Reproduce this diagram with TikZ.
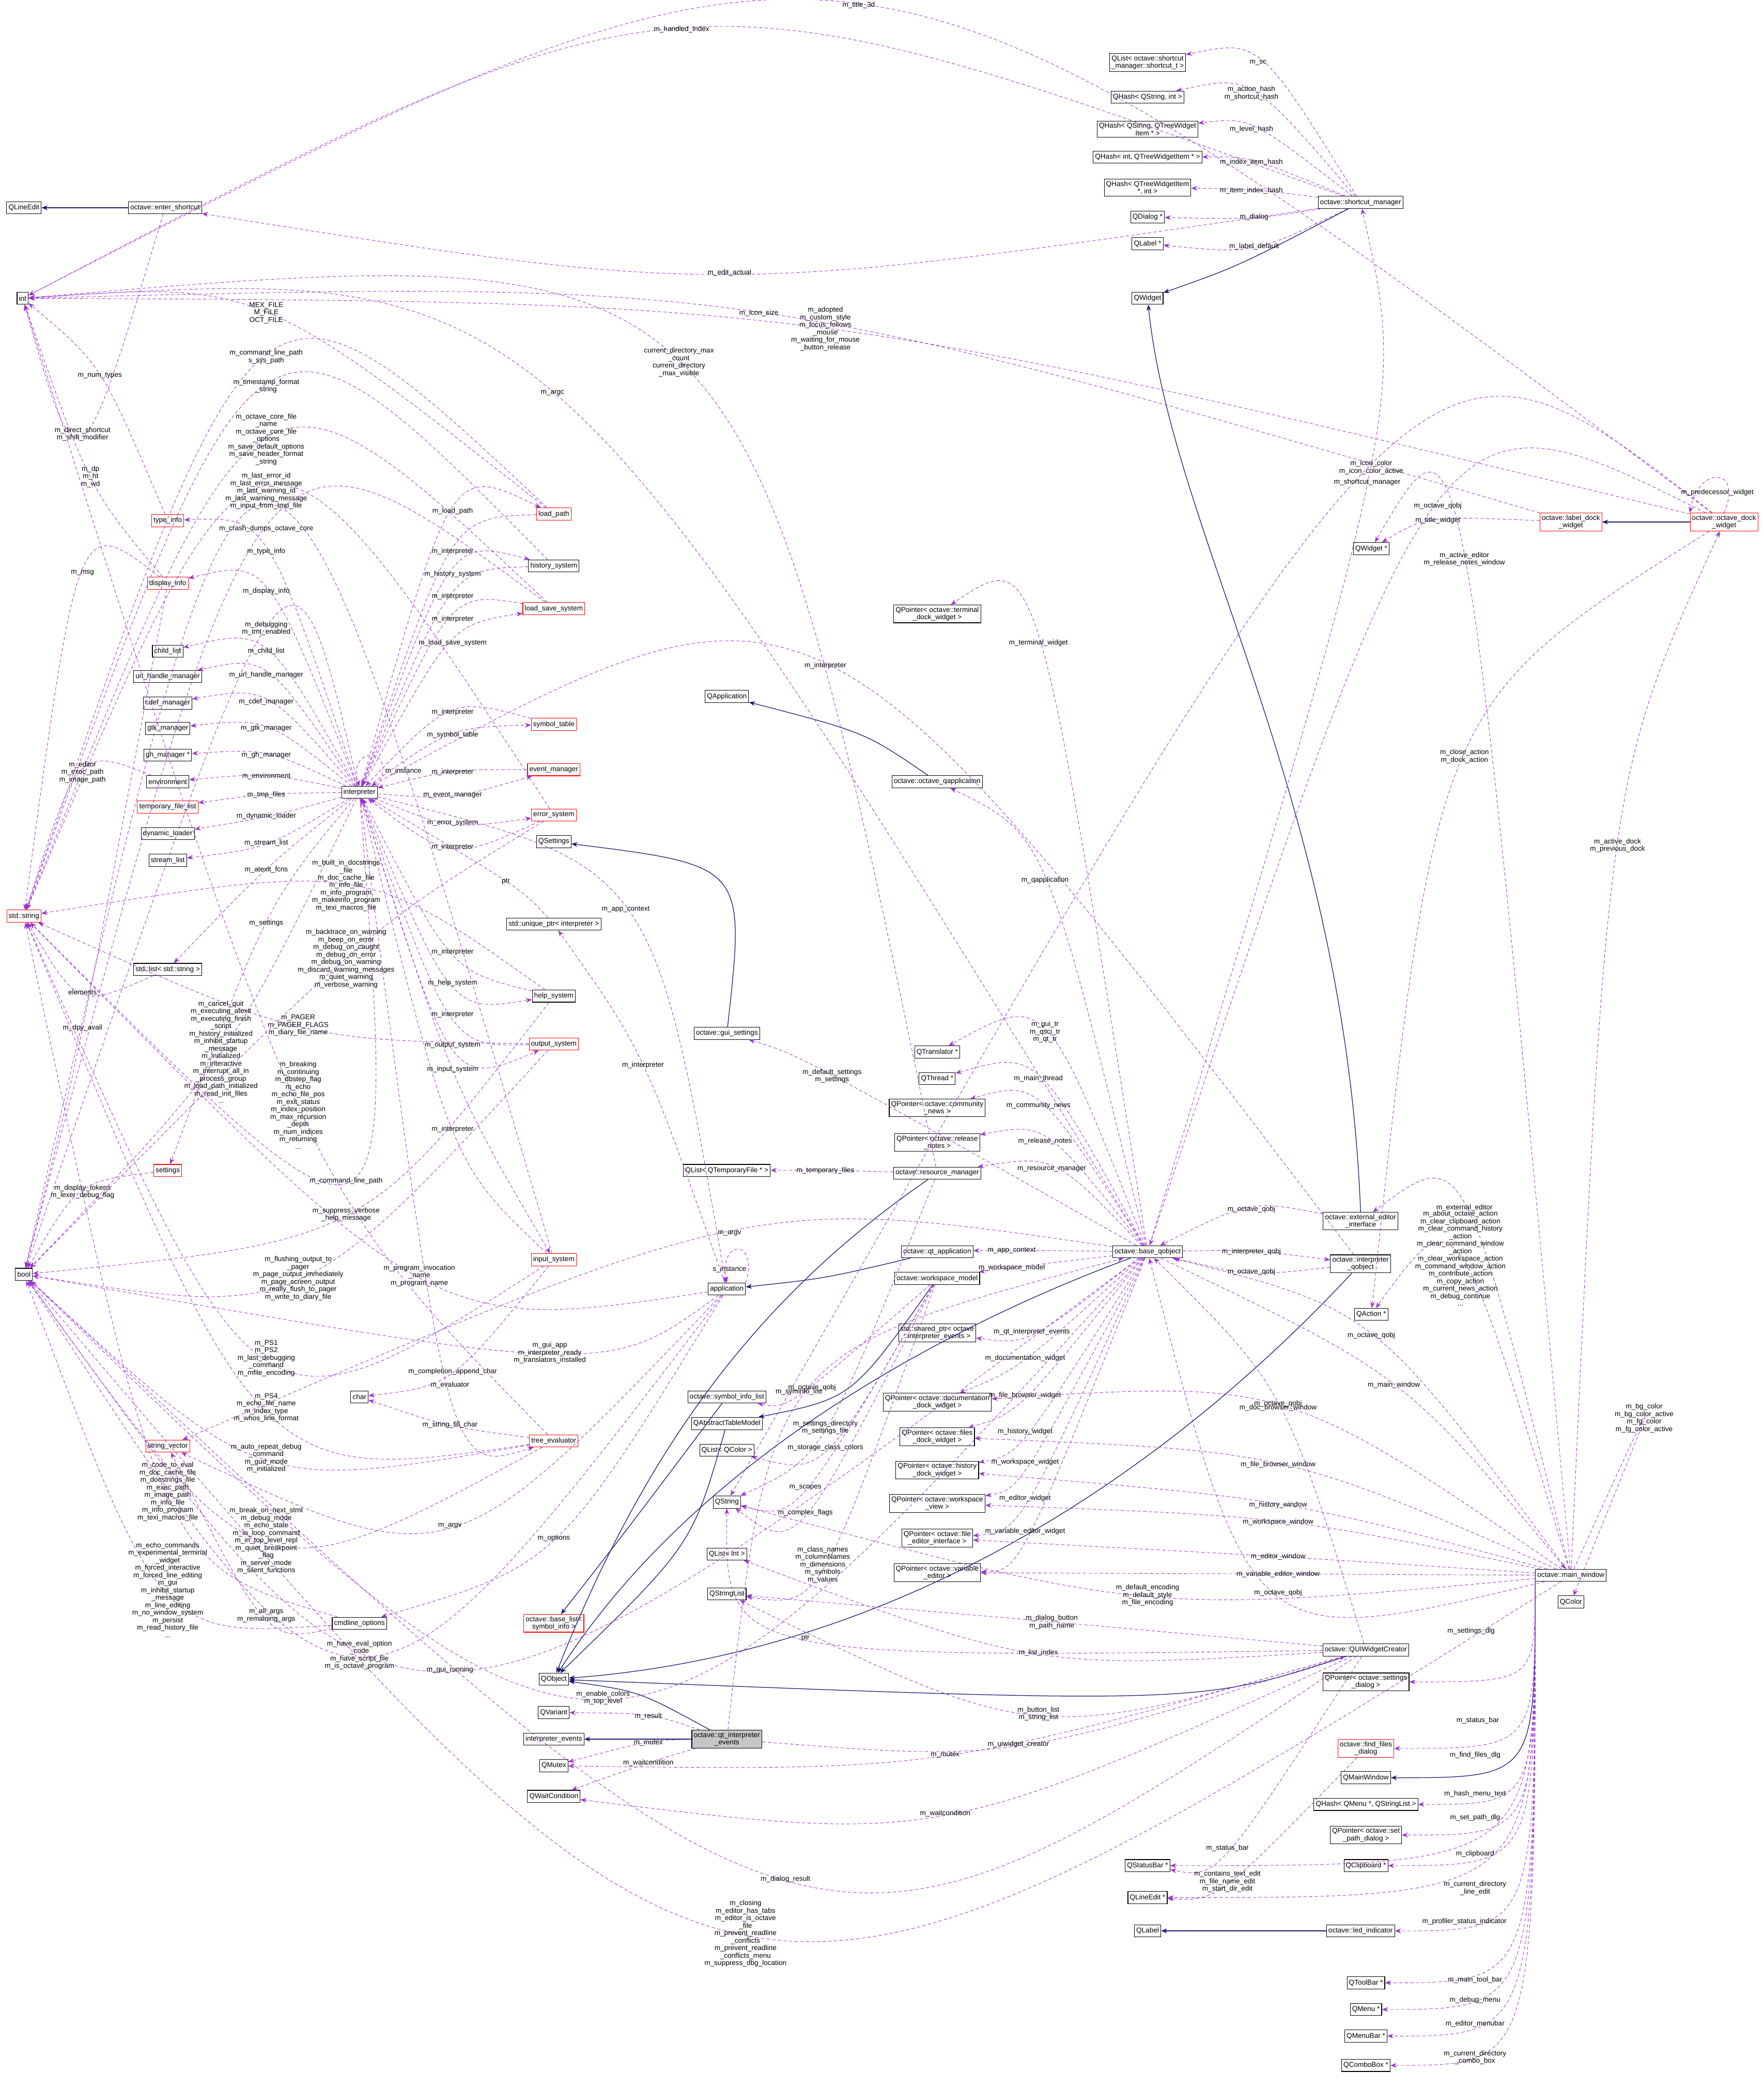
\documentclass[tikz,border=0pt]{standalone}
\usepackage{fontspec}
\setmainfont{Liberation Sans}
\usetikzlibrary{calc,arrows.meta}
\definecolor{dpurple}{HTML}{9A32CD}
\definecolor{dblue}{HTML}{191970}
\tikzset{
 bx/.style={draw=black,line width=1.2pt,inner sep=4pt,minimum height=26pt,align=center,font=\fontsize{15}{16}\selectfont,fill=white},
 rbx/.style={bx,draw=red},
 gbx/.style={bx,fill=gray!45},
 dep/.style={draw=dpurple,dashed,dash pattern=on 7pt off 5pt,line width=1pt,-{Stealth[length=13pt,width=10pt]}},
 inh/.style={draw=dblue,line width=1.4pt,-{Stealth[length=13pt,width=10pt]}},
 lbl/.style={font=\fontsize{15}{16}\selectfont,align=center,inner sep=1pt,text=black}
}
\newcommand\ed[4]{\draw[dep] (#1) .. controls ($1.3333*(#3)-0.16667*(#1)-0.16667*(#2)$) and ($1.3333*(#3)-0.16667*(#1)-0.16667*(#2)$) .. (#2);\node[lbl] at (#3) {#4};}
\newcommand\edb[3]{\draw[dep] (mw.south west) .. controls (mw.south west |- #1) .. (#1.east);\node[lbl] at (#2) {#3};}
\newcommand\ih[2]{\draw[inh] (#1) -- (#2);}
\begin{document}
\begin{tikzpicture}[x=0.1cm,y=-0.1cm]
\useasboundingbox (0,0) rectangle (1325,1568);
% left column
\node[bx] (QLineEdit) at (18,156) {QLineEdit};
\node[bx] (int) at (17,224) {int};
\node[rbx] (typeinfo) at (126,391) {type\_info};
\node[rbx] (dispinfo) at (126,438) {display\_info};
\node[rbx] (str) at (18,688) {std::string};
\node[bx] (bool) at (18,957) {bool};
\node[bx] (childlist) at (126,489) {child\_list};
\node[bx] (uri) at (126,508) {url\_handle\_manager};
\node[bx] (cdef) at (126,528) {cdef\_manager};
\node[bx] (gtk) at (126,547) {gtk\_manager};
\node[bx] (gh) at (126,567) {gh\_manager *};
\node[bx] (env) at (126,587) {environment};
\node[rbx] (tmpf) at (126,606) {temporary\_file\_list};
\node[bx] (dynl) at (126,626) {dynamic\_loader};
\node[bx] (streaml) at (126,646) {stream\_list};
\node[bx] (slist) at (126,728) {std::list\textless{} std::string \textgreater};
\node[rbx] (settings) at (126,879) {settings};
\node[rbx] (strvec) at (126,1086) {string\_vector};
\node[bx] (char) at (270,1049) {char};
\node[bx] (entersc) at (124,156) {octave::enter\_shortcut};
\node[bx] (interp) at (270,595) {interpreter};
\node[rbx] (loadpath) at (416,386) {load\_path};
\node[bx] (histsys) at (416,425) {history\_system};
\node[rbx] (lss) at (416,457) {load\_save\_system};
\node[rbx] (symtab) at (416,544) {symbol\_table};
\node[rbx] (evm) at (416,578) {event\_manager};
\node[rbx] (errsys) at (416,612) {error\_system};
\node[bx] (QSettings) at (416,632) {QSettings};
\node[bx] (uptr) at (416,694) {std::unique\_ptr\textless{} interpreter \textgreater};
\node[bx] (helpsys) at (416,748) {help\_system};
\node[rbx] (outsys) at (416,784) {output\_system};
\node[rbx] (insys) at (416,946) {input\_system};
\node[rbx] (treeev) at (416,1082) {tree\_evaluator};
\node[bx] (cmdopt) at (270,1219) {cmdline\_options};
\node[bx] (app) at (546,968) {application};
\node[bx] (QApplication) at (546,523) {QApplication};
\node[bx] (qapp) at (704,587) {octave::octave\_qapplication};
\node[bx] (guiset) at (546,776) {octave::gui\_settings};
\node[bx] (qltmp) at (546,879) {QList\textless{} QTemporaryFile * \textgreater};
\node[bx] (resmgr) at (704,881) {octave::resource\_manager};
\node[bx] (qtapp) at (704,940) {octave::qt\_application};
\node[bx] (wsmodel) at (704,960) {octave::workspace\_model};
\node[bx] (syminfo) at (546,1049) {octave::symbol\_info\_list};
\node[bx] (QATM) at (546,1069) {QAbstractTableModel};
\node[bx] (qlcolor) at (546,1089) {QList\textless{} QColor \textgreater};
\node[bx] (QString) at (546,1128) {QString};
\node[bx] (qlint) at (546,1167) {QList\textless{} int \textgreater};
\node[bx] (QStringList) at (546,1197) {QStringList};
\node[rbx] (baselist) at (416,1219) {octave::base\_list\textless{}\\symbol\_info \textgreater};
\node[bx] (QObject) at (416,1261) {QObject};
\node[bx] (QVariant) at (416,1286) {QVariant};
\node[bx] (ievents) at (416,1306) {interpreter\_events};
\node[bx] (QMutex) at (416,1326) {QMutex};
\node[bx] (QWait) at (416,1349) {QWaitCondition};
\node[gbx] (qtie) at (546,1306) {octave::qt\_interpreter\\\_events};
\node[bx] (QTrans) at (704,790) {QTranslator *};
\node[bx] (QThread) at (704,810) {QThread *};
\node[bx] (pnews) at (704,832) {QPointer\textless{} octave::community\\\_news \textgreater};
\node[bx] (prel) at (704,858) {QPointer\textless{} octave::release\\\_notes \textgreater};
\node[bx] (sptr) at (704,1001) {std::shared\_ptr\textless{} octave\\::interpreter\_events \textgreater};
\node[bx] (pdoc) at (704,1053) {QPointer\textless{} octave::documentation\\\_dock\_widget \textgreater};
\node[bx] (pfiles) at (704,1079) {QPointer\textless{} octave::files\\\_dock\_widget \textgreater};
\node[bx] (phist) at (704,1104) {QPointer\textless{} octave::history\\\_dock\_widget \textgreater};
\node[bx] (pws) at (704,1129) {QPointer\textless{} octave::workspace\\\_view \textgreater};
\node[bx] (ped) at (704,1155) {QPointer\textless{} octave::file\\\_editor\_interface \textgreater};
\node[bx] (pvar) at (704,1181) {QPointer\textless{} octave::variable\\\_editor \textgreater};
\node[bx] (pterm) at (704,461) {QPointer\textless{} octave::terminal\\\_dock\_widget \textgreater};
\node[bx] (bqo) at (862,940) {octave::base\_qobject};
\node[bx] (extedit) at (1022,917) {octave::external\_editor\\\_interface};
\node[bx] (iqo) at (1022,949) {octave::interpreter\\\_qobject};
\node[bx] (QAction) at (1030,987) {QAction *};
\node[bx] (QWidget) at (862,224) {QWidget};
\node[bx] (QWidgetp) at (1030,412) {QWidget *};
\node[rbx] (ldw) at (1180,392) {octave::label\_dock\\\_widget};
\node[rbx] (odw) at (1295,392) {octave::octave\_dock\\\_widget};
\node[bx] (scm) at (1022,152) {octave::shortcut\_manager};
\node[bx] (qlsc) at (862,47) {QList\textless{} octave::shortcut\\\_manager::shortcut\_t \textgreater};
\node[bx] (qh1) at (862,73) {QHash\textless{} QString, int \textgreater};
\node[bx] (qh2) at (862,97) {QHash\textless{} QString, QTreeWidget\\Item * \textgreater};
\node[bx] (qh3) at (862,118) {QHash\textless{} int, QTreeWidgetItem * \textgreater};
\node[bx] (qh4) at (862,141) {QHash\textless{} QTreeWidgetItem\\*, int \textgreater};
\node[bx] (QDialog) at (862,163) {QDialog *};
\node[bx] (QLabelp) at (862,183) {QLabel *};
\node[bx] (mw) at (1180,1183) {octave::main\_window};
\node[bx] (QColor) at (1180,1203) {QColor};
\node[bx] (quiw) at (1026,1239) {octave::QUIWidgetCreator};
\node[bx] (psd) at (1026,1263) {QPointer\textless{} octave::settings\\\_dialog \textgreater};
\node[rbx] (ffd) at (1026,1313) {octave::find\_files\\\_dialog};
\node[bx] (QMainWindow) at (1026,1335) {QMainWindow};
\node[bx] (qhmenu) at (1026,1355) {QHash\textless{} QMenu *, QStringList \textgreater};
\node[bx] (pspd) at (1026,1378) {QPointer\textless{} octave::set\\\_path\_dialog \textgreater};
\node[bx] (QClip) at (1026,1401) {QClipboard *};
\node[bx] (QStatus) at (862,1401) {QStatusBar *};
\node[bx] (QLineEditp) at (862,1425) {QLineEdit *};
\node[bx] (QLabel) at (862,1450) {QLabel};
\node[bx] (led) at (1022,1450) {octave::led\_indicator};
\node[bx] (QToolBar) at (1026,1489) {QToolBar *};
\node[bx] (QMenu) at (1026,1509) {QMenu *};
\node[bx] (QMenuBar) at (1026,1529) {QMenuBar *};
\node[bx] (QCombo) at (1026,1551) {QComboBox *};

% inheritance
\ih{entersc}{QLineEdit}
\draw[inh] (scm) .. controls (930,200) .. (QWidget);
\draw[inh] (extedit.north) .. controls (1010,600) and (880,400) .. (QWidget);
\ih{odw}{ldw}
\draw[inh] (qapp) .. controls (650,550) .. (QApplication);
\draw[inh] (guiset) .. controls (560,650) .. (QSettings);
\draw[inh] (qtapp) .. controls (620,960) .. (app);
\draw[inh] (resmgr) .. controls (560,980) and (480,1100) .. (QObject);
\draw[inh] (bqo) .. controls (700,1000) and (520,1100) .. (QObject);
\draw[inh] (iqo) .. controls (900,1080) and (700,1240) .. (QObject);
\draw[inh] (quiw) .. controls (900,1280) .. (QObject);
\draw[inh] (qtie) .. controls (480,1270) .. (QObject);
\ih{qtie}{ievents}
\draw[inh] (wsmodel) .. controls (640,1050) .. (QATM);
\draw[inh] (QATM) .. controls (520,1160) .. (QObject);
\draw[inh] (syminfo) .. controls (470,1150) .. (baselist);
\draw[inh] (mw.south west) .. controls (mw.south west |- QMainWindow) .. (QMainWindow.east);
\ih{led}{QLabel}

% top area
\ed{odw}{int}{645,4}{m\_title\_3d}
\ed{scm}{int}{512,22}{m\_handled\_index}
\ed{scm}{qlsc}{945,47}{m\_sc}
\ed{scm}{qh1}{940,70}{m\_action\_hash\\m\_shortcut\_hash}
\ed{scm}{qh2}{940,97}{m\_level\_hash}
\ed{scm}{qh3}{940,122}{m\_index\_item\_hash}
\ed{scm}{qh4}{940,143}{m\_item\_index\_hash}
\ed{scm}{QDialog}{942,163}{m\_dialog}
\ed{scm}{QLabelp}{942,185}{m\_label\_default}
\ed{scm}{entersc}{548,205}{m\_edit\_actual}
\ed{entersc}{int}{62,326}{m\_direct\_shortcut\\m\_shift\_modifier}
\ed{odw}{int}{620,247}{m\_adopted\\m\_custom\_style\\m\_focus\_follows\\\_mouse\\m\_waiting\_for\_mouse\\\_button\_release}
\ed{ldw}{int}{570,235}{m\_icon\_size}
\ed{resmgr}{int}{510,272}{current\_directory\_max\\\_count\\current\_directory\\\_max\_visible}
\ed{loadpath}{int}{200,235}{MEX\_FILE\\M\_FILE\\OCT\_FILE}
\ed{typeinfo}{int}{75,282}{m\_num\_types}
\ed{dispinfo}{int}{68,358}{m\_dp\\m\_ht\\m\_wd}
\ed{bqo}{int}{415,295}{m\_argc}
\ed{odw}{QString}{1030,351}{m\_icon\_color\\m\_icon\_color\_active}
\ed{bqo}{scm}{1027,362}{m\_shortcut\_manager}
\ed{odw}{bqo}{1080,380}{m\_octave\_qobj}
\ed{ldw}{QWidgetp}{1080,391}{m\_title\_widget}
\draw[dep] (odw.north) .. controls (1310,350) and (1275,350) .. (odw.north west);
\node[lbl] at (1290,370) {m\_predecessor\_widget};
\ed{mw}{odw}{1215,635}{m\_active\_dock\\m\_previous\_dock}
\ed{mw}{QWidgetp}{1100,420}{m\_active\_editor\\m\_release\_notes\_window}
\ed{odw}{QAction}{1100,568}{m\_close\_action\\m\_dock\_action}
\ed{mw}{QColor}{1235,1065}{m\_bg\_color\\m\_bg\_color\_active\\m\_fg\_color\\m\_fg\_color\_active}
\ed{bqo}{pterm}{780,483}{m\_terminal\_widget}
\ed{iqo}{interp}{620,500}{m\_interpreter}
\ed{bqo}{qapp}{785,661}{m\_qapplication}
\ed{bqo}{guiset}{625,808}{m\_default\_settings\\m\_settings}
\ed{bqo}{QTrans}{785,775}{m\_gui\_tr\\m\_qsci\_tr\\m\_qt\_tr}
\ed{bqo}{QThread}{780,810}{m\_main\_thread}
\ed{bqo}{pnews}{780,830}{m\_community\_news}
\ed{bqo}{prel}{785,857}{m\_release\_notes}
\ed{bqo}{resmgr}{790,878}{m\_resource\_manager}
\ed{resmgr}{qltmp}{620,879}{m\_temporary\_files}
\ed{bqo}{qtapp}{760,939}{m\_app\_context}
\ed{bqo}{wsmodel}{760,952}{m\_workspace\_model}
\ed{bqo}{iqo}{940,940}{m\_interpreter\_qobj}
\ed{iqo}{bqo}{940,955}{m\_octave\_qobj}
\ed{extedit}{bqo}{940,908}{m\_octave\_qobj}
\ed{mw}{extedit}{1100,907}{m\_external\_editor}
\ed{mw}{QAction}{1097,945}{m\_about\_octave\_action\\m\_clear\_clipboard\_action\\m\_clear\_command\_history\\\_action\\m\_clear\_command\_window\\\_action\\m\_clear\_workspace\_action\\m\_command\_window\_action\\m\_contribute\_action\\m\_copy\_action\\m\_current\_news\_action\\m\_debug\_continue\\...}
\ed{mw}{bqo}{1030,1003}{m\_octave\_qobj}
\ed{bqo}{mw}{1047,1040}{m\_main\_window}
\ed{bqo}{sptr}{775,1000}{m\_qt\_interpreter\_events}
\ed{bqo}{pdoc}{770,1020}{m\_documentation\_widget}
\ed{bqo}{pfiles}{770,1048}{m\_file\_browser\_widget}
\ed{bqo}{phist}{770,1075}{m\_history\_widget}
\ed{bqo}{pws}{770,1098}{m\_workspace\_widget}
\ed{bqo}{ped}{770,1125}{m\_editor\_widget}
\ed{bqo}{pvar}{770,1150}{m\_variable\_editor\_widget}
\ed{mw}{pdoc}{960,1057}{m\_doc\_browser\_window}
\ed{mw}{pfiles}{960,1100}{m\_file\_browser\_window}
\ed{mw}{phist}{960,1130}{m\_history\_window}
\ed{mw}{pws}{960,1143}{m\_workspace\_window}
\ed{mw}{ped}{960,1169}{m\_editor\_window}
\ed{mw}{pvar}{960,1182}{m\_variable\_editor\_window}
\ed{mw}{QString}{862,1198}{m\_default\_encoding\\m\_default\_style\\m\_file\_encoding}
\ed{mw}{bqo}{960,1196}{m\_octave\_qobj}
\ed{quiw}{bqo}{960,1054}{m\_octave\_qobj}
\ed{quiw}{QStringList}{790,1218}{m\_dialog\_button\\m\_path\_name}
\ed{quiw}{qlint}{780,1241}{m\_list\_index}
\ed{quiw}{QStringList}{780,1287}{m\_button\_list\\m\_string\_list}
\ed{quiw}{bool}{590,1411}{m\_dialog\_result}
\ed{quiw}{QMutex}{710,1318}{m\_mutex}
\ed{quiw}{QWait}{710,1362}{m\_waitcondition}
\ed{qtie}{quiw}{765,1310}{m\_uiwidget\_creator}
\ed{qtie}{QVariant}{487,1289}{m\_result}
\ed{qtie}{QMutex}{487,1309}{m\_mutex}
\ed{qtie}{QWait}{487,1324}{m\_waitcondition}
\ed{qtie}{bqo}{610,1042}{m\_octave\_qobj}
\ed{resmgr}{QString}{620,1072}{m\_settings\_directory\\m\_settings\_file}
\ed{wsmodel}{qlcolor}{620,1087}{m\_storage\_class\_colors}
\ed{wsmodel}{QString}{605,1117}{m\_scopes}
\ed{wsmodel}{QString}{605,1136}{m\_complex\_flags}
\ed{wsmodel}{syminfo}{600,1045}{m\_syminfo\_list}
\ed{wsmodel}{QStringList}{618,1175}{m\_class\_names\\m\_columnNames\\m\_dimensions\\m\_symbols\\m\_values}
\ed{quiw}{QString}{605,1230}{ptr}
\edb{psd}{1105,1225}{m\_settings\_dlg}
\edb{QStatus}{1110,1292}{m\_status\_bar}
\ed{quiw}{QStatus}{922,1388}{m\_status\_bar}
\edb{ffd}{1108,1318}{m\_find\_files\_dlg}
\edb{qhmenu}{1108,1347}{m\_hash\_menu\_text}
\edb{pspd}{1108,1365}{m\_set\_path\_dlg}
\edb{QClip}{1108,1392}{m\_clipboard}
\edb{QLineEditp}{1108,1418}{m\_current\_directory\\\_line\_edit}
\edb{led}{1100,1443}{m\_profiler\_status\_indicator}
\edb{QToolBar}{1108,1487}{m\_main\_tool\_bar}
\edb{QMenu}{1108,1502}{m\_debug\_menu}
\edb{QMenuBar}{1108,1520}{m\_editor\_menubar}
\edb{QCombo}{1108,1545}{m\_current\_directory\\\_combo\_box}
\ed{ffd}{QLineEditp}{922,1413}{m\_contains\_text\_edit\\m\_file\_name\_edit\\m\_start\_dir\_edit}
\ed{mw}{bool}{560,1452}{m\_closing\\m\_editor\_has\_tabs\\m\_editor\_is\_octave\\\_file\\m\_prevent\_readline\\\_conflicts\\m\_prevent\_readline\\\_conflicts\_menu\\m\_suppress\_dbg\_location}

% interpreter area
\ed{interp}{loadpath}{340,384}{m\_load\_path}
\ed{loadpath}{interp}{340,414}{m\_interpreter}
\ed{interp}{histsys}{340,431}{m\_history\_system}
\ed{histsys}{interp}{340,448}{m\_interpreter}
\ed{lss}{interp}{340,465}{m\_interpreter}
\ed{interp}{lss}{340,483}{m\_load\_save\_system}
\ed{interp}{typeinfo}{200,414}{m\_type\_info}
\ed{interp}{dispinfo}{200,444}{m\_display\_info}
\ed{interp}{bool}{200,472}{m\_debugging\\m\_tmt\_enabled}
\ed{interp}{childlist}{200,489}{m\_child\_list}
\ed{interp}{uri}{200,507}{m\_url\_handle\_manager}
\ed{interp}{cdef}{200,527}{m\_cdef\_manager}
\ed{interp}{gtk}{200,547}{m\_gtk\_manager}
\ed{interp}{gh}{200,567}{m\_gh\_manager}
\ed{interp}{env}{200,583}{m\_environment}
\ed{interp}{tmpf}{200,597}{m\_tmp\_files}
\ed{interp}{dynl}{200,613}{m\_dynamic\_loader}
\ed{interp}{streaml}{200,633}{m\_stream\_list}
\ed{interp}{slist}{200,653}{m\_atexit\_fcns}
\ed{interp}{settings}{200,693}{m\_settings}
\draw[dep] (interp.north east) .. controls (300,560) and (260,560) .. (interp.north);
\node[lbl] at (303,579) {m\_instance};
\ed{symtab}{interp}{340,535}{m\_interpreter}
\ed{interp}{symtab}{340,552}{m\_symbol\_table}
\ed{evm}{interp}{340,580}{m\_interpreter}
\ed{interp}{evm}{340,597}{m\_event\_manager}
\ed{interp}{errsys}{340,618}{m\_error\_system}
\ed{errsys}{interp}{340,636}{m\_interpreter}
\ed{uptr}{interp}{380,662}{ptr}
\ed{helpsys}{interp}{340,715}{m\_interpreter}
\ed{interp}{helpsys}{340,738}{m\_help\_system}
\ed{outsys}{interp}{340,762}{m\_interpreter}
\ed{interp}{outsys}{340,785}{m\_output\_system}
\ed{interp}{insys}{340,803}{m\_input\_system}
\ed{insys}{interp}{340,848}{m\_interpreter}
\ed{interp}{app}{470,683}{m\_app\_context}
\ed{app}{uptr}{483,800}{m\_interpreter}
\draw[dep] (app.north east) .. controls (570,930) and (540,930) .. (app.north);
\node[lbl] at (548,953) {s\_instance};
\ed{bqo}{strvec}{548,926}{m\_argv}
\ed{app}{strvec}{338,1146}{m\_argv}
\ed{app}{cmdopt}{416,1155}{m\_options}
\ed{cmdopt}{strvec}{200,1213}{m\_all\_args\\m\_remaining\_args}
\ed{cmdopt}{bool}{126,1194}{m\_echo\_commands\\m\_experimental\_terminal\\\_widget\\m\_forced\_interactive\\m\_forced\_line\_editing\\m\_gui\\m\_inhibit\_startup\\\_message\\m\_line\_editing\\m\_no\_window\_system\\m\_persist\\m\_read\_history\_file\\...}
\ed{cmdopt}{str}{126,1120}{m\_code\_to\_eval\\m\_doc\_cache\_file\\m\_docstrings\_file\\m\_exec\_path\\m\_image\_path\\m\_info\_file\\m\_info\_program\\m\_texi\_macros\_file}
\ed{app}{bool}{270,1243}{m\_have\_eval\_option\\\_code\\m\_have\_script\_file\\m\_is\_octave\_program}
\ed{app}{str}{315,958}{m\_program\_invocation\\\_name\\m\_program\_name}
\ed{app}{bool}{413,1016}{m\_gui\_app\\m\_interpreter\_ready\\m\_translators\_installed}
\ed{insys}{str}{200,1020}{m\_PS1\\m\_PS2\\m\_last\_debugging\\\_command\\m\_mfile\_encoding}
\ed{insys}{char}{340,1030}{m\_completion\_append\_char}
\ed{interp}{treeev}{338,1040}{m\_evaluator}
\ed{treeev}{char}{338,1070}{m\_string\_fill\_char}
\ed{treeev}{str}{200,1057}{m\_PS4\\m\_echo\_file\_name\\m\_index\_type\\m\_whos\_line\_format}
\ed{treeev}{bool}{200,1157}{m\_break\_on\_next\_stmt\\m\_debug\_mode\\m\_echo\_state\\m\_in\_loop\_command\\m\_in\_top\_level\_repl\\m\_quiet\_breakpoint\\\_flag\\m\_server\_mode\\m\_silent\_functions}
\ed{treeev}{bool}{200,1095}{m\_auto\_repeat\_debug\\\_command\\m\_gud\_mode\\m\_initialized}
\ed{treeev}{int}{224,830}{m\_breaking\\m\_continuing\\m\_dbstep\_flag\\m\_echo\\m\_echo\_file\_pos\\m\_exit\_status\\m\_index\_position\\m\_max\_recursion\\\_depth\\m\_num\_indices\\m\_returning\\...}
\ed{outsys}{str}{224,770}{m\_PAGER\\m\_PAGER\_FLAGS\\m\_diary\_file\_name}
\ed{outsys}{bool}{224,960}{m\_flushing\_output\_to\\\_pager\\m\_page\_output\_immediately\\m\_page\_screen\_output\\m\_really\_flush\_to\_pager\\m\_write\_to\_diary\_file}
\ed{interp}{bool}{166,790}{m\_cancel\_quit\\m\_executing\_atexit\\m\_executing\_finish\\\_script\\m\_history\_initialized\\m\_inhibit\_startup\\\_message\\m\_initialized\\m\_interactive\\m\_interrupt\_all\_in\\\_process\_group\\m\_load\_path\_initialized\\m\_read\_init\_files\\...}
\ed{errsys}{bool}{260,720}{m\_backtrace\_on\_warning\\m\_beep\_on\_error\\m\_debug\_on\_caught\\m\_debug\_on\_error\\m\_debug\_on\_warning\\m\_discard\_warning\_messages\\m\_quiet\_warning\\m\_verbose\_warning}
\ed{helpsys}{str}{260,665}{m\_built\_in\_docstrings\\\_file\\m\_doc\_cache\_file\\m\_info\_file\\m\_info\_program\\m\_makeinfo\_program\\m\_texi\_macros\_file}
\ed{errsys}{str}{200,366}{m\_last\_error\_id\\m\_last\_error\_message\\m\_last\_warning\_id\\m\_last\_warning\_message}
\ed{lss}{bool}{200,397}{m\_crash\_dumps\_octave\_core}
\ed{lss}{str}{200,330}{m\_octave\_core\_file\\\_name\\m\_octave\_core\_file\\\_options\\m\_save\_default\_options\\m\_save\_header\_format\\\_string}
\ed{histsys}{str}{200,290}{m\_timestamp\_format\\\_string}
\ed{loadpath}{str}{200,268}{m\_command\_line\_path\\s\_sys\_path}
\ed{insys}{bool}{200,380}{m\_input\_from\_tmp\_file}
\ed{dispinfo}{str}{62,430}{m\_msg}
\ed{dispinfo}{bool}{62,772}{m\_dpy\_avail}
\ed{env}{str}{62,580}{m\_editor\\m\_exec\_path\\m\_image\_path}
\ed{slist}{str}{62,745}{elements}
\ed{settings}{bool}{62,895}{m\_display\_tokens\\m\_lexer\_debug\_flag}
\ed{interp}{str}{260,887}{m\_command\_line\_path}
\ed{helpsys}{bool}{260,912}{m\_suppress\_verbose\\\_help\_message}
\ed{bqo}{bool}{338,1254}{m\_gui\_running}
\ed{bqo}{bool}{453,1275}{m\_enable\_colors\\m\_top\_level}
\end{tikzpicture}
\end{document}
